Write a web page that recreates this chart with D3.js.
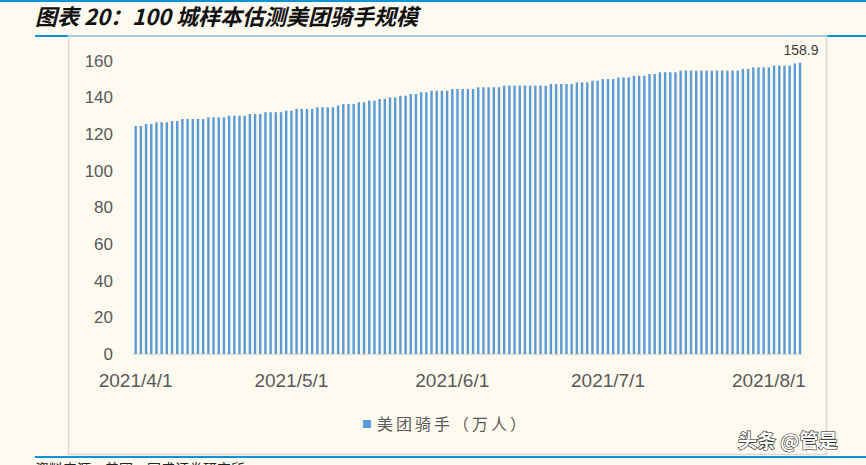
<!DOCTYPE html>
<html>
<head>
<meta charset="utf-8">
<script src="https://cdn.jsdelivr.net/npm/d3@7"></script>
<style>
  html, body { margin: 0; padding: 0; background: #fefaf0; }
  svg { display: block; }
</style>
</head>
<body>
<svg></svg>
<script>
var WIDTH = 866;
var HEIGHT = 465;

// daily riders (10k), 2021/4/1 .. 2021/8/7
var startDate = '2021-04-01';
var riders = [
  124.4, 124.4, 125.5, 125.5, 126.4, 126.4, 126.4, 127.1, 127.1, 128.2,
  128.2, 128.2, 128.2, 128.2, 129.1, 129.1, 129.1, 129.1, 130.0, 130.0,
  130.0, 130.0, 130.9, 130.9, 130.9, 131.9, 131.9, 131.9, 131.9, 132.7,
  132.7, 133.7, 133.7, 133.7, 133.7, 134.6, 134.6, 134.6, 134.6, 135.5,
  136.4, 136.4, 136.4, 137.3, 137.3, 138.2, 138.2, 139.1, 139.1, 140.0,
  140.0, 140.9, 140.9, 141.8, 141.8, 142.8, 142.8, 143.6, 143.6, 143.6,
  143.6, 144.6, 144.6, 144.6, 144.6, 144.6, 145.5, 145.5, 145.5, 145.5,
  145.5, 146.4, 146.4, 146.4, 146.4, 146.4, 146.4, 146.4, 146.4, 146.4,
  147.3, 147.3, 147.3, 147.3, 147.3, 148.2, 148.2, 148.2, 149.1, 149.1,
  150.0, 150.0, 150.0, 150.9, 150.9, 150.9, 151.8, 151.8, 151.8, 152.8,
  152.8, 153.7, 153.7, 153.7, 153.7, 154.6, 154.6, 154.6, 154.6, 154.6,
  154.6, 154.6, 154.6, 154.6, 154.6, 154.6, 154.6, 155.5, 155.5, 156.4,
  156.4, 156.4, 156.4, 157.3, 157.3, 157.3, 157.3, 158.5, 158.9
];
var yTicks = [0, 20, 40, 60, 80, 100, 120, 140, 160];
var xTickDates = ['2021-04-01', '2021-05-01', '2021-06-01', '2021-07-01', '2021-08-01'];
var titleText = '图表 20：100 城样本估测美团骑手规模';
var legendText = '美团骑手（万人）';
var lastLabel = '158.9';

var parse = d3.timeParse('%Y-%m-%d');
var day0 = parse(startDate);
var dates = riders.map(function(v, i) { return d3.timeDay.offset(day0, i); });

var svg = d3.select('svg')
  .attr('width', WIDTH)
  .attr('height', HEIGHT);

// top rule, title, title rule
svg.append('rect').attr('x', 0).attr('y', 0).attr('width', WIDTH).attr('height', 2).attr('fill', '#0a94dc');
svg.append('text')
  .attr('x', 35).attr('y', 25)
  .attr('font-family', '"Noto Sans CJK SC", sans-serif')
  .attr('font-size', 22).attr('font-weight', 'bold').attr('font-style', 'italic')
  .attr('fill', '#111')
  .text(titleText);
svg.append('rect').attr('x', 35).attr('y', 35).attr('width', WIDTH - 35).attr('height', 2).attr('fill', '#0a94dc');

// chart frame
svg.append('rect')
  .attr('x', 68.5).attr('y', 36).attr('width', 758).attr('height', 418.5)
  .attr('fill', 'none').attr('stroke', '#d9d9d9').attr('stroke-width', 1.5);

// bottom rule + source (cut off by the page edge, as in the original)
svg.append('rect').attr('x', 35).attr('y', 456).attr('width', WIDTH - 35).attr('height', 2).attr('fill', '#0a94dc');
svg.append('text')
  .attr('x', 35).attr('y', 474)
  .attr('font-family', '"Noto Sans CJK SC", sans-serif')
  .attr('font-size', 14).attr('fill', '#222')
  .text('资料来源：美团，国盛证券研究所');

var xScale = d3.scaleTime()
  .domain([day0, dates[dates.length - 1]])
  .range([135.7, 135.7 + (riders.length - 1) * 5.19]);

var yScale = d3.scaleLinear()
  .domain([0, 160])
  .range([354, 60.7]);

var barW = 2.4;

// y labels
svg.append('g').selectAll('text')
  .data(yTicks)
  .enter()
  .append('text')
  .attr('x', 113)
  .attr('y', function(d) { return yScale(d) + 6; })
  .attr('text-anchor', 'end')
  .attr('font-family', '"Liberation Sans", Arial, sans-serif')
  .attr('font-size', 17)
  .attr('fill', '#595959')
  .text(function(d) { return d; });

// bars
svg.append('g').selectAll('rect')
  .data(riders)
  .enter()
  .append('rect')
  .attr('x', function(d, i) { return xScale(dates[i]) - barW / 2; })
  .attr('y', function(d) { return yScale(d); })
  .attr('width', barW)
  .attr('height', function(d) { return yScale(0) - yScale(d); })
  .attr('fill', '#5b9bd5');

// baseline
svg.append('line')
  .attr('x1', xScale(day0) - 3).attr('x2', xScale(dates[dates.length - 1]) + 3)
  .attr('y1', yScale(0) + 0.5).attr('y2', yScale(0) + 0.5)
  .attr('stroke', '#d9d9d9').attr('stroke-width', 1);

// x labels
var fmt = d3.timeFormat('%Y/%-m/%-d');
svg.append('g').selectAll('text')
  .data(xTickDates.map(parse))
  .enter()
  .append('text')
  .attr('x', function(d) { return xScale(d); })
  .attr('y', 387)
  .attr('text-anchor', 'middle')
  .attr('font-family', '"Liberation Sans", Arial, sans-serif')
  .attr('font-size', 19)
  .attr('fill', '#595959')
  .text(function(d) { return fmt(d); });

// last value label
svg.append('text')
  .attr('x', xScale(dates[dates.length - 1]) + 1)
  .attr('y', 55)
  .attr('text-anchor', 'middle')
  .attr('font-family', '"Liberation Sans", Arial, sans-serif')
  .attr('font-size', 14)
  .attr('fill', '#404040')
  .text(lastLabel);

// legend
svg.append('rect').attr('x', 363).attr('y', 420).attr('width', 8).attr('height', 8).attr('fill', '#5b9bd5');
svg.append('text')
  .attr('x', 377).attr('y', 430)
  .attr('font-family', '"Noto Sans CJK SC", sans-serif')
  .attr('font-size', 16)
  .attr('letter-spacing', 3)
  .attr('fill', '#595959')
  .text(legendText);

// watermark
svg.append('text')
  .attr('x', 738).attr('y', 448)
  .attr('font-family', '"Noto Sans CJK SC", sans-serif')
  .attr('font-size', 19)
  .attr('font-weight', 'bold')
  .attr('fill', '#fff')
  .attr('stroke', '#222')
  .attr('stroke-width', 1.2)
  .attr('paint-order', 'stroke')
  .text('头条 @管是');
</script>
</body>
</html>
